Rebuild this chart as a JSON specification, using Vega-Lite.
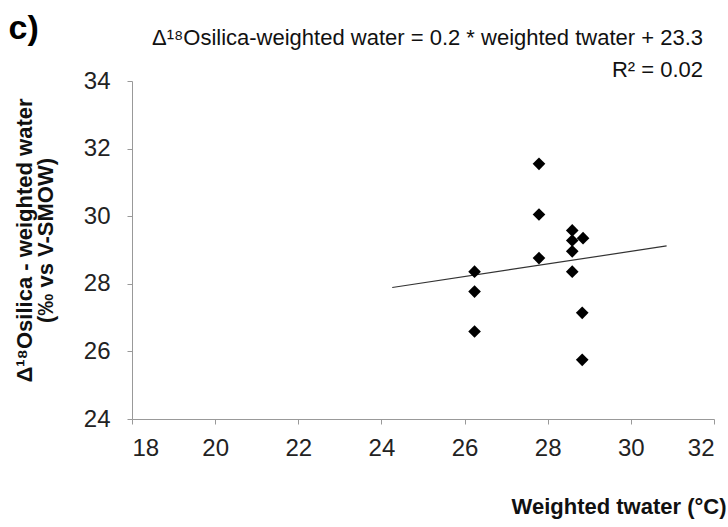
{
  "$schema": "https://vega.github.io/schema/vega-lite/v6.json",
  "width": 582,
  "height": 338,
  "autosize": "none",
  "padding": {"left": 132, "top": 81, "right": 14, "bottom": 108},
  "background": "white",
  "config": {"view": {"stroke": null}, "font": "Liberation Sans"},
  "title": {
    "text": "Δ¹⁸Osilica-weighted water = 0.2 * weighted twater + 23.3",
    "subtitle": "R² = 0.02",
    "anchor": "end",
    "frame": "group",
    "fontSize": 22,
    "fontWeight": "normal",
    "color": "#111",
    "subtitleFontSize": 22,
    "subtitleColor": "#111",
    "subtitlePadding": 10,
    "offset": 2,
    "dx": -11,
    "dy": 72
  },
  "datasets": {
    "points": [
      {"t": 27.79, "d": 31.55},
      {"t": 27.79, "d": 30.05},
      {"t": 27.79, "d": 28.76},
      {"t": 26.24, "d": 28.36},
      {"t": 26.24, "d": 27.77},
      {"t": 26.24, "d": 26.59},
      {"t": 28.59, "d": 29.58},
      {"t": 28.59, "d": 29.28},
      {"t": 28.85, "d": 29.35},
      {"t": 28.59, "d": 28.96},
      {"t": 28.59, "d": 28.36},
      {"t": 28.83, "d": 27.14},
      {"t": 28.83, "d": 25.75}
    ],
    "trend": [
      {"t": 24.26, "d": 27.89},
      {"t": 30.86, "d": 29.12}
    ]
  },
  "layer": [
    {
      "data": {"name": "trend"},
      "mark": {"type": "line", "color": "#333", "strokeWidth": 1.2},
      "encoding": {
        "x": {
          "field": "t", "type": "quantitative",
          "scale": {"domain": [18, 32], "nice": false, "zero": false},
          "axis": {
            "values": [18, 20, 22, 24, 26, 28, 30, 32],
            "grid": false,
            "domainColor": "#999",
            "tickColor": "#999",
            "tickSize": 5,
            "labelFontSize": 24,
            "labelColor": "#222",
            "labelPadding": 12,
            "title": "Weighted twater (°C)",
            "titleFontSize": 22,
            "titleFontWeight": "bold",
            "titleColor": "#111",
            "titleAlign": "right",
            "titleAnchor": "end",
            "titleX": 594,
            "titleY": 94,
            "titleBaseline": "alphabetic"
          }
        },
        "y": {
          "field": "d", "type": "quantitative",
          "scale": {"domain": [24, 34], "nice": false, "zero": false},
          "axis": {
            "values": [24, 26, 28, 30, 32, 34],
            "grid": false,
            "domainColor": "#999",
            "tickColor": "#999",
            "tickSize": 5,
            "labelFontSize": 24,
            "labelColor": "#222",
            "labelPadding": 17,
            "title": ["Δ¹⁸Osilica - weighted water", "(‰ vs V-SMOW)"],
            "titleFontSize": 22,
            "titleFontWeight": "bold",
            "titleColor": "#111",
            "titleLineHeight": 21,
            "titleAlign": "center",
            "titleAngle": -90,
            "titleBaseline": "bottom",
            "titleX": -96,
            "titleY": 159
          }
        }
      }
    },
    {
      "data": {"name": "points"},
      "mark": {"type": "point", "shape": "diamond", "filled": true, "color": "#000", "size": 160, "opacity": 1},
      "encoding": {
        "x": {"field": "t", "type": "quantitative"},
        "y": {"field": "d", "type": "quantitative"}
      }
    },
    {
      "data": {"values": [{"label": "c)"}]},
      "mark": {"type": "text", "fontSize": 34, "fontWeight": "bold", "align": "left", "baseline": "alphabetic", "color": "#000"},
      "encoding": {
        "x": {"datum": 15.03, "type": "quantitative"},
        "y": {"datum": 35.235, "type": "quantitative"},
        "text": {"field": "label"}
      }
    }
  ]
}
